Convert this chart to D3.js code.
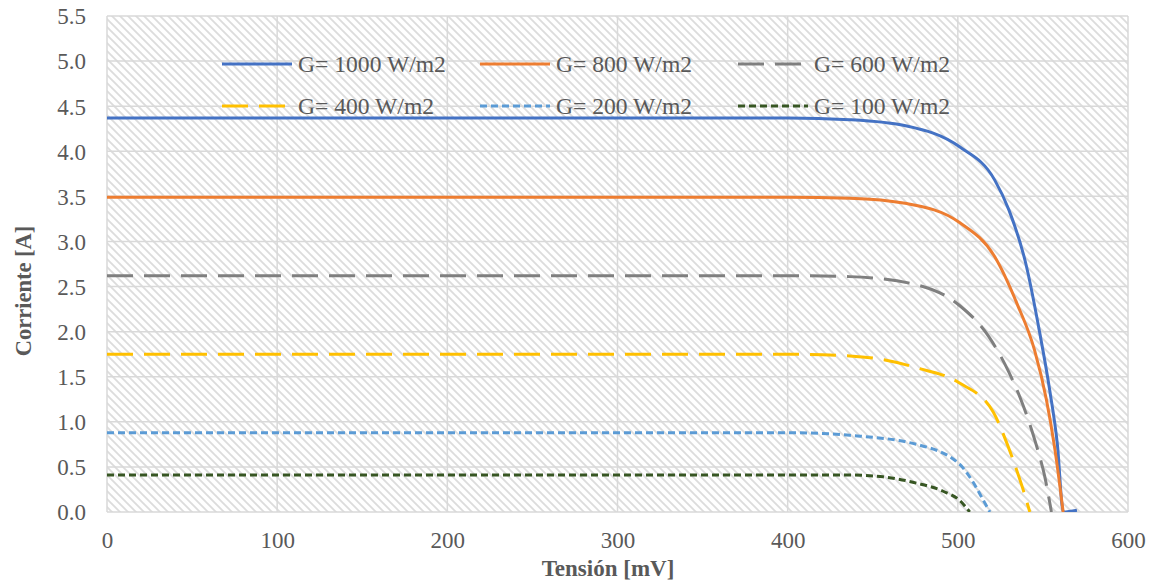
<!DOCTYPE html>
<html>
<head>
<meta charset="utf-8">
<script src="https://cdn.jsdelivr.net/npm/d3@7/dist/d3.min.js"></script>
<style>
  html, body { margin: 0; padding: 0; background: #ffffff; }
  svg { display: block; }
  text { font-family: "Liberation Serif", "Times New Roman", serif; fill: #595959; }
</style>
</head>
<body>
<svg id="chart" width="1156" height="583"></svg>
<script>
// Tick values
const xTicks = [0, 100, 200, 300, 400, 500, 600];
const yTicks = [0, 0.5, 1, 1.5, 2, 2.5, 3, 3.5, 4, 4.5, 5, 5.5];

// I-V curves: voltage (mV) and current (A) per irradiance level
const vG1000 = [0, 100, 200, 300, 400, 436.5, 470, 501, 521.7, 530, 540, 548, 554, 558.5, 562, 570];
const iG1000 = [4.37, 4.37, 4.37, 4.37, 4.37, 4.35, 4.28, 4.05, 3.68, 3.35, 2.75, 2.0, 1.35, 0.75, 0.00, 0.02];

const vG800 = [0, 100, 200, 300, 400, 436.5, 470, 501, 521.7, 535, 545, 552, 557, 561.9];
const iG800 = [3.49, 3.49, 3.49, 3.49, 3.49, 3.48, 3.42, 3.21, 2.83, 2.30, 1.80, 1.25, 0.70, 0.00];

const vG600 = [0, 100, 200, 300, 400, 436.5, 475.7, 501, 518, 530, 538, 546, 551, 555];
const iG600 = [2.62, 2.62, 2.62, 2.62, 2.62, 2.61, 2.52, 2.29, 1.95, 1.55, 1.20, 0.75, 0.40, 0.00];

const vG400 = [0, 100, 200, 300, 400, 436.5, 456.1, 475.7, 501, 520.8, 527, 533, 538, 542.3];
const iG400 = [1.75, 1.75, 1.75, 1.75, 1.75, 1.73, 1.69, 1.60, 1.43, 1.11, 0.85, 0.55, 0.27, 0.00];

const vG200 = [0, 100, 200, 300, 400, 436.5, 475.7, 501, 509, 515, 518.8];
const iG200 = [0.88, 0.88, 0.88, 0.88, 0.88, 0.85, 0.75, 0.53, 0.33, 0.13, 0.00];

const vG100 = [0, 100, 200, 300, 400, 436.5, 456.1, 475.7, 491.4, 501, 507];
const iG100 = [0.41, 0.41, 0.41, 0.41, 0.41, 0.41, 0.39, 0.32, 0.23, 0.13, 0.00];

const seriesNames = ["G= 1000 W/m2", "G= 800 W/m2", "G= 600 W/m2", "G= 400 W/m2", "G= 200 W/m2", "G= 100 W/m2"];
const seriesV = [vG1000, vG800, vG600, vG400, vG200, vG100];
const seriesI = [iG1000, iG800, iG600, iG400, iG200, iG100];

const colors = ["#4472C4", "#ED7D31", "#7F7F7F", "#FFC000", "#5B9BD5", "#375623"];
const dashes = [null, null, "26,11", "26,11", "7,4", "7,4"];

const svg = d3.select("#chart");
const plot = { left: 107, right: 1128, top: 16, bottom: 512 };

const x = d3.scaleLinear().domain([0, 600]).range([plot.left, plot.right]);
const y = d3.scaleLinear().domain([0, 5.5]).range([plot.bottom, plot.top]);

// Diagonal hatch fill of the plot area
const defs = svg.append("defs");
const pat = defs.append("pattern")
  .attr("id", "hatch")
  .attr("patternUnits", "userSpaceOnUse")
  .attr("width", 8).attr("height", 8);
pat.append("rect").attr("width", 8).attr("height", 8).attr("fill", "#ffffff");
pat.append("path")
  .attr("d", "M-2,-2 L10,10 M-2,6 L2,10 M6,-2 L10,2")
  .attr("stroke", "#dcdcdc")
  .attr("stroke-width", 1.8);

defs.append("clipPath").attr("id", "plotClip")
  .append("rect")
  .attr("x", plot.left).attr("y", plot.top)
  .attr("width", plot.right - plot.left)
  .attr("height", plot.bottom - plot.top);

svg.append("rect")
  .attr("x", plot.left).attr("y", plot.top)
  .attr("width", plot.right - plot.left)
  .attr("height", plot.bottom - plot.top)
  .attr("fill", "url(#hatch)");

// Gridlines
const grid = svg.append("g");
grid.selectAll("line.h").data(yTicks).join("line")
  .attr("x1", plot.left).attr("x2", plot.right)
  .attr("y1", d => y(d)).attr("y2", d => y(d))
  .attr("stroke", "#d9d9d9").attr("stroke-width", 1.5);
grid.selectAll("line.v").data(xTicks).join("line")
  .attr("y1", plot.top).attr("y2", plot.bottom)
  .attr("x1", d => x(d)).attr("x2", d => x(d))
  .attr("stroke", "#d9d9d9").attr("stroke-width", 1.5);

// Axes (labels only, no domain line)
const yAxis = d3.axisLeft(y).tickValues(yTicks).tickFormat(d3.format(".1f")).tickSize(0).tickPadding(21);
const gy = svg.append("g").attr("transform", `translate(${plot.left},0)`).call(yAxis);
gy.select(".domain").remove();
gy.selectAll("text").attr("font-size", 23).attr("dy", "0.34em");

const xAxis = d3.axisBottom(x).tickValues(xTicks).tickFormat(d3.format("d")).tickSize(0).tickPadding(20);
const gx = svg.append("g").attr("transform", `translate(0,${plot.bottom})`).call(xAxis);
gx.select(".domain").remove();
gx.selectAll("text").attr("font-size", 23);

// Axis titles
svg.append("text")
  .attr("transform", "translate(31,291) rotate(-90)")
  .attr("text-anchor", "middle")
  .attr("font-size", 22.5).attr("font-weight", "bold")
  .text("Corriente [A]");
svg.append("text")
  .attr("x", 608).attr("y", 576)
  .attr("text-anchor", "middle")
  .attr("font-size", 23).attr("font-weight", "bold")
  .text("Tensión [mV]");

// Legend (two rows of three)
const legendX = [222, 480, 738];
const legendY = [64, 106];
const legend = svg.append("g");
seriesNames.forEach((name, k) => {
  const cx = legendX[k % 3];
  const cy = legendY[Math.floor(k / 3)];
  legend.append("line")
    .attr("x1", cx).attr("x2", cx + 70)
    .attr("y1", cy).attr("y2", cy)
    .attr("stroke", colors[k]).attr("stroke-width", 3)
    .attr("stroke-dasharray", dashes[k]);
  legend.append("text")
    .attr("x", cx + 76).attr("y", cy + 8)
    .attr("font-size", 23.6)
    .text(name);
});

// Curves
const line = d3.line()
  .x(d => x(d[0]))
  .y(d => y(d[1]))
  .curve(d3.curveMonotoneX);

const curves = svg.append("g").attr("clip-path", "url(#plotClip)");
seriesNames.forEach((name, k) => {
  const pts = seriesV[k].map((v, j) => [v, seriesI[k][j]]);
  curves.append("path")
    .datum(pts)
    .attr("d", line)
    .attr("fill", "none")
    .attr("stroke", colors[k])
    .attr("stroke-width", 3)
    .attr("stroke-dasharray", dashes[k])
    .attr("stroke-linejoin", "round");
});
</script>
</body>
</html>
